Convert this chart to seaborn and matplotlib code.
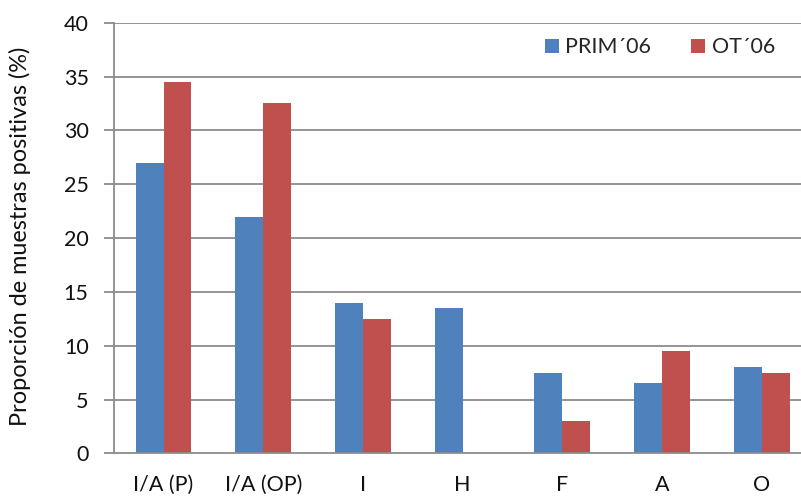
import matplotlib
matplotlib.use("Agg")
import matplotlib.pyplot as plt
import seaborn as sns
import pandas as pd

categories = ["I/A (P)", "I/A (OP)", "I", "H", "F", "A", "O"]
series_names = ["PRIM´06", "OT´06"]
prim_values = [27, 22, 14, 13.5, 7.5, 6.5, 8]
ot_values = [34.5, 32.5, 12.5, 0, 3, 9.5, 7.5]
y_ticks = [0, 5, 10, 15, 20, 25, 30, 35, 40]

df = pd.DataFrame({
    "cat": categories * 2,
    "serie": [series_names[0]] * len(categories) + [series_names[1]] * len(categories),
    "valor": prim_values + ot_values,
})

sns.set_style("white")
plt.rcParams["font.family"] = ["Lato", "DejaVu Sans"]

fs = 15.5
grid_c = "#8c8c8c"
fig = plt.figure(figsize=(8.01, 4.96), dpi=100)
ax = fig.add_axes([0.1419, 0.0857, 0.8713, 0.8685])

for y in y_ticks[1:]:
    ax.axhline(y, color=grid_c, lw=1.3, zorder=0)

sns.barplot(data=df, x="cat", y="valor", hue="serie", order=categories,
            hue_order=series_names, palette=["#4F81BD", "#C0504D"],
            width=0.56, gap=0, dodge=True, saturation=1, ax=ax,
            edgecolor="none", linewidth=0, zorder=2)

ax.set_xlim(-0.5, len(categories) - 0.5)
ax.set_ylim(0, 40)
ax.set_yticks(y_ticks)
ax.set_yticklabels([str(v) for v in y_ticks], fontsize=fs)
ax.set_xticks(range(len(categories)))
ax.set_xticklabels(categories, fontsize=fs)
ax.set_xticks([i - 0.5 for i in range(len(categories) + 1)], minor=True)
ax.tick_params(axis="x", which="major", length=0, pad=15.5)
ax.tick_params(axis="x", which="minor", length=7, width=1.3, color=grid_c, direction="out")
ax.tick_params(axis="y", length=7, width=1.3, color=grid_c, direction="out", pad=11, left=True)
for lab in ax.get_xticklabels() + ax.get_yticklabels():
    lab.set_color("#111111")

ax.set_xlabel("")
ax.set_ylabel("Proporción de muestras positivas (%)", fontsize=16.9, color="#111111")
ax.yaxis.set_label_coords(-0.1185, 0.505)

for side in ["top", "right"]:
    ax.spines[side].set_visible(False)
for side in ["left", "bottom"]:
    ax.spines[side].set_color(grid_c)
    ax.spines[side].set_linewidth(1.3)
ax.spines["left"].set_zorder(3)
ax.spines["bottom"].set_zorder(3)

handles, labels = ax.get_legend_handles_labels()
ax.legend(handles, labels, loc="upper left", bbox_to_anchor=(0.618, 0.966), ncol=2,
          frameon=False, fontsize=fs, handlelength=0.65, handleheight=0.65,
          handletextpad=0.3, columnspacing=1.85, borderaxespad=0, borderpad=0)

fig.savefig("out.png", dpi=100)
